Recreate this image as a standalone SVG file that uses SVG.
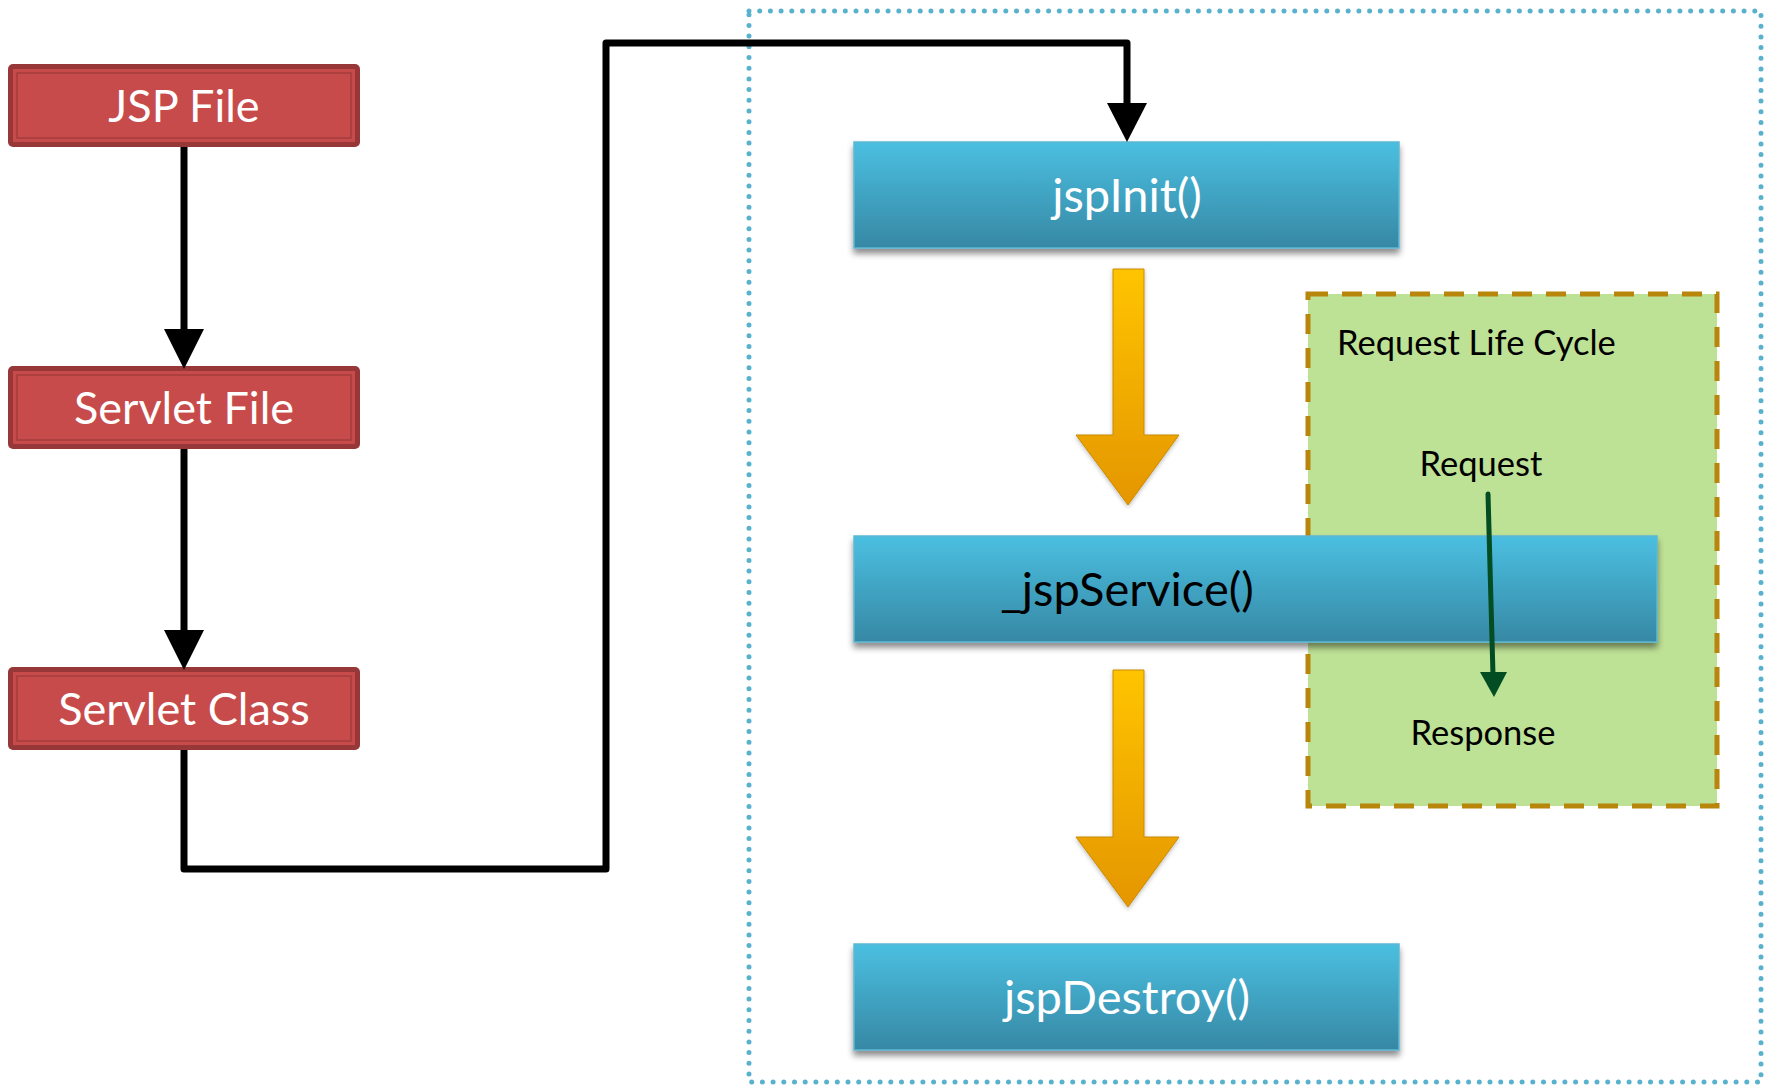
<svg xmlns="http://www.w3.org/2000/svg" width="1773" height="1086" viewBox="0 0 1773 1086">
  <style>
    .red-label { font-family: Lato, "Open Sans", sans-serif; font-size: 45px; fill: #ffffff; text-anchor: middle; }
    .blue-label { font-family: Lato, "Open Sans", sans-serif; font-size: 47px; fill: #ffffff; text-anchor: middle; }
    .svc-label { font-family: Lato, "Open Sans", sans-serif; font-size: 47px; fill: #000000; text-anchor: middle; }
    .cycle-label { font-family: Lato, "Open Sans", sans-serif; font-size: 34.5px; fill: #000000; }
    .conn { fill: none; stroke: #000000; stroke-width: 7; stroke-linejoin: round; }
    .red-outer { fill: #973737; }
    .red-inner { fill: #C84B4B; }
    .red-line { fill: none; stroke: #A43D3D; stroke-width: 1.5; }
    .blue-box { fill: url(#blueGrad); stroke: #5DB8D3; stroke-width: 1.5; filter: url(#shadow); }
    .flow-arrow { fill: url(#orangeGrad); stroke: #C98A00; stroke-width: 1; filter: url(#softShadow); }
  </style>
  <defs>
    <linearGradient id="blueGrad" x1="0" y1="0" x2="0" y2="1">
      <stop offset="0" stop-color="#4BBFE1"/>
      <stop offset="1" stop-color="#3688A4"/>
    </linearGradient>
    <linearGradient id="orangeGrad" x1="0" y1="0" x2="0" y2="1">
      <stop offset="0" stop-color="#FFC400"/>
      <stop offset="1" stop-color="#E49600"/>
    </linearGradient>
    <filter id="shadow" x="-5%" y="-10%" width="110%" height="130%">
      <feDropShadow dx="0" dy="5" stdDeviation="3" flood-color="#000000" flood-opacity="0.45"/>
    </filter>
    <filter id="softShadow" x="-20%" y="-10%" width="140%" height="130%">
      <feDropShadow dx="0" dy="2" stdDeviation="2" flood-color="#000000" flood-opacity="0.25"/>
    </filter>
  </defs>

  <rect width="1773" height="1086" fill="#ffffff"/>

  <!-- container for the runtime phases -->
  <rect id="lifecycle-container" x="749" y="11" width="1012" height="1071" fill="none" stroke="#58B2CD" stroke-width="5" stroke-linecap="round" stroke-dasharray="0 10.7"/>

  <!-- request life cycle region -->
  <g id="request-cycle">
    <rect x="1308" y="294" width="409" height="512" fill="#BDE195" stroke="#B8860B" stroke-width="5" stroke-dasharray="20 14"/>
    <text class="cycle-label" x="1337" y="355">Request Life Cycle</text>
    <text class="cycle-label" x="1481" y="476" text-anchor="middle">Request</text>
    <text class="cycle-label" x="1483" y="745" text-anchor="middle">Response</text>
  </g>

  <!-- translation chain -->
  <g id="jsp-file">
    <rect class="red-outer" x="8" y="64" width="352" height="83" rx="5"/>
    <rect class="red-inner" x="13" y="69" width="342" height="73"/>
    <rect class="red-line" x="17" y="73" width="334" height="65"/>
    <text class="red-label" x="184" y="122">JSP File</text>
  </g>
  <g id="servlet-file">
    <rect class="red-outer" x="8" y="366" width="352" height="83" rx="5"/>
    <rect class="red-inner" x="13" y="371" width="342" height="73"/>
    <rect class="red-line" x="17" y="375" width="334" height="65"/>
    <text class="red-label" x="184" y="424">Servlet File</text>
  </g>
  <g id="servlet-class">
    <rect class="red-outer" x="8" y="667" width="352" height="83" rx="5"/>
    <rect class="red-inner" x="13" y="672" width="342" height="73"/>
    <rect class="red-line" x="17" y="676" width="334" height="65"/>
    <text class="red-label" x="184" y="725">Servlet Class</text>
  </g>

  <!-- lifecycle methods -->
  <g id="jsp-init">
    <rect class="blue-box" x="854" y="142" width="545" height="106"/>
    <text class="blue-label" x="1127" y="212">jspInit()</text>
  </g>
  <g id="jsp-service">
    <rect class="blue-box" x="854" y="536" width="803" height="106"/>
    <text class="svc-label" x="1127" y="606">_jspService()</text>
  </g>
  <g id="jsp-destroy">
    <rect class="blue-box" x="854" y="944" width="545" height="106"/>
    <text class="blue-label" x="1127" y="1014">jspDestroy()</text>
  </g>

  <!-- connectors -->
  <g id="connectors">
    <line class="conn" x1="184" y1="147" x2="184" y2="335"/>
    <polygon points="164,329 204,329 184,369"/>
    <line class="conn" x1="184" y1="449" x2="184" y2="635"/>
    <polygon points="164,630 204,630 184,670"/>
    <path class="conn" d="M184 750 V869 H606 V43 H1127 V108"/>
    <polygon points="1107,103 1147,103 1127,142"/>

    <polygon class="flow-arrow" points="1113,269 1144,269 1144,435 1179,435 1128,505 1076,435 1113,435"/>
    <polygon class="flow-arrow" points="1113,670 1144,670 1144,837 1179,837 1128,907 1076,837 1113,837"/>

    <line x1="1488" y1="494" x2="1493" y2="675" stroke="#034D23" stroke-width="5" stroke-linecap="round"/>
    <polygon points="1480,672 1507,672 1494,697" fill="#034D23"/>
  </g>
</svg>
